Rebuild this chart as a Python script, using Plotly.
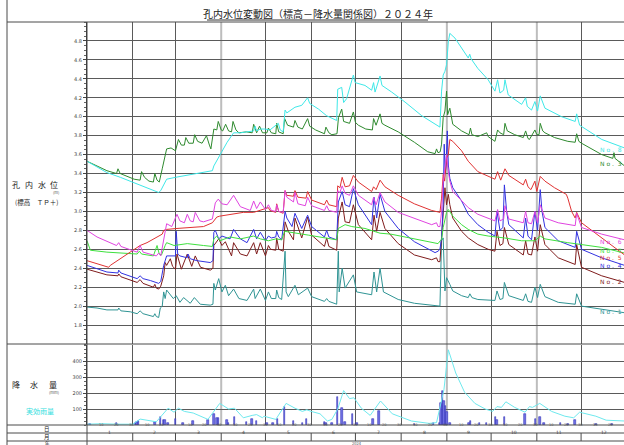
import plotly.graph_objects as go

# ---------------- data ----------------
MONTH_START = [0, 31, 60, 91, 121, 152, 182, 213, 244, 274, 305, 335, 366]
MONTH_LABELS = ["1", "2", "3", "4", "5", "6", "7", "8", "9", "10", "11", "12"]
LEVEL_TICKS = [1.8, 2.0, 2.2, 2.4, 2.6, 2.8, 3.0, 3.2, 3.4, 3.6, 3.8, 4.0, 4.2, 4.4, 4.6, 4.8]
RAIN_TICKS = [100, 200, 300, 400]
YEAR_LABEL = "2024"

# water level (day of year, m TP+)
NO8 = [(0,3.53),(13.5,3.41),(22.6,3.36),(34,3.29),(43,3.24),(48.6,3.20),(50,3.22),(54,3.34),(60,3.36),(68,3.38),
       (85,3.43),(86,3.48),(90,3.59),(91,3.62),(95,3.73),(99.4,3.83),(104,3.83),(113,3.85),(114,3.90),(115,3.85),
       (117.5,3.87),(120.7,3.87),(124,3.86),(129.7,3.93),(131,3.86),(133,3.84),(134.3,4.07),(135.5,4.04),(141,4.10),
       (145.6,4.12),(149.6,4.20),(151,4.14),(157,4.08),(162.5,4.01),(169.3,3.96),(170,4.29),(172.7,4.31),(174,4.15),
       (176,4.19),(180.6,4.44),(181.8,4.36),(188.5,4.33),(193,4.28),(194.3,4.36),(195.3,4.26),(198.7,4.43),(200,4.33),
       (206.6,4.26),(215.6,4.155),(227,4.01),(239.3,3.89),(240.4,4.27),(241.5,4.44),(242.7,4.48),(243.8,4.55),(245,4.79),
       (246,4.88),(249.5,4.83),(254,4.72),(258.5,4.62),(259.5,4.66),(260.5,4.61),(265,4.51),(272,4.39),(276.6,4.27),
       (278.4,4.39),(280,4.25),(282.5,4.28),(283.4,4.39),(285.6,4.23),(294.7,4.13),(297.4,4.20),(298.5,4.11),
       (301.4,4.07),(303.7,4.16),(305.5,4.06),(307.3,4.22),(310.5,4.09),(321.8,4.00),(331,3.95),(332,4.03),(334,3.91),
       (349,3.76),(364.5,3.67)]
NO3 = [(0,3.53),(7,3.48),(13.5,3.43),(20,3.40),(21,3.45),(22.5,3.40),(29,3.36),(32,3.34),(36,3.33),(37,3.42),
       (39,3.36),(42,3.32),(45,3.31),(46,3.40),(47.5,3.33),(49,3.31),(51,3.45),(54,3.66),(57,3.67),(60,3.64),(62,3.76),
       (64,3.70),(66,3.70),(67,3.78),(69,3.72),(72,3.72),(73,3.81),(75,3.74),(78,3.72),(81,3.80),(83,3.70),(84,3.66),
       (86,3.87),(88,3.86),(89,3.95),(91,3.86),(92,3.85),(94,3.92),(96,3.85),(98,3.84),(99,3.95),(101,3.86),(103,3.83),
       (108,3.84),(112,3.83),(113,3.92),(115,3.83),(117,3.90),(119,3.83),(122,3.83),(123,3.88),(125,3.83),(128,3.82),
       (128.6,3.93),(130,3.84),(133,3.82),(134,3.98),(136,3.91),(140,3.89),(141,3.96),(143,3.89),(146,3.87),
       (149.6,3.98),(151,3.90),(155,3.86),(161,3.82),(162,3.89),(164,3.83),(166,3.81),(169.5,3.82),(170.5,3.99),
       (172.7,4.08),(174,3.95),(178,3.93),(180.6,4.05),(182,3.94),(184,3.91),(189,3.87),(193.5,3.86),(194.3,3.98),
       (196,3.91),(198.7,4.03),(200,3.93),(202,3.91),(211,3.84),(222,3.73),(231,3.63),(236,3.61),(237,3.66),(238,3.62),
       (239.5,3.63),(240.4,3.71),(241.5,3.99),(242.7,4.06),(243.8,4.27),(244.5,4.02),(246,4.09),(248,3.92),(254,3.85),
       (259,3.81),(260,3.88),(261,3.81),(265,3.79),(271,3.83),(272,3.79),(276.6,3.74),(278.4,3.86),(280,3.83),
       (282.5,3.81),(283.4,3.93),(285,3.85),(290,3.81),(295.8,3.78),(297.4,3.85),(299,3.77),(300,3.76),(303.7,3.86),
       (305,3.81),(306.5,3.81),(307.3,3.93),(309,3.85),(310.5,3.83),(317,3.78),(326,3.74),(331,3.73),(332,3.82),
       (333.5,3.74),(335.3,3.72),(349,3.60),(356.5,3.56),(357.3,3.62),(358,3.56),(364.5,3.48)]
NO5 = [(0,2.48),(6.8,2.45),(14.7,2.41),(15.8,2.43),(22.6,2.50),(29.4,2.57),(36,2.64),(40.7,2.67),(45,2.71),(51,2.76),
       (52,2.80),(54,2.81),(61,2.82),(68,2.83),(79,2.84),(85,2.88),(88,2.94),(90,2.95),(99.4,2.97),(106,2.99),(113,2.99),
       (120,3.02),(123,3.04),(124,3.01),(128,2.99),(128.6,3.08),(130,3.00),(133,2.98),(134.3,3.22),(135.5,3.17),
       (140,3.16),(141,3.22),(143,3.15),(148.5,3.14),(149.6,3.21),(152.3,3.12),(161,3.07),(162.5,3.12),(164,3.07),
       (169.3,3.05),(170,3.27),(171.5,3.25),(173,3.36),(175,3.26),(178,3.27),(180.6,3.38),(184,3.31),(193,3.21),
       (194.3,3.26),(196,3.23),(198.7,3.33),(202,3.26),(211,3.17),(222,3.08),(233.7,3.01),(239.3,2.99),(240.4,3.14),
       (241.5,3.39),(242.5,3.32),(243.8,3.56),(245,3.60),(246,3.76),(248,3.74),(254,3.64),(258.5,3.53),(265,3.42),
       (272,3.37),(276.6,3.34),(278.4,3.42),(280.5,3.33),(283.4,3.45),(286,3.38),(295.8,3.28),(297.4,3.34),(299,3.26),
       (301,3.23),(303.7,3.32),(305,3.21),(307.3,3.37),(310.5,3.32),(317,3.25),(325,3.18),(326,3.14),(328.6,3.00),
       (331,2.93),(332,2.99),(335.3,2.88),(349,2.72),(364.5,2.54)]
NO6 = [(0,2.80),(6.8,2.73),(20,2.64),(21.5,2.67),(23,2.63),(34,2.57),(36,2.64),(38,2.57),(47,2.53),(48.6,2.56),
       (50,2.53),(53,2.82),(54,2.87),(57.5,2.84),(61,2.97),(63,2.90),(66,2.88),(68,2.97),(70,2.90),(72,2.89),(73.4,2.99),
       (76.5,2.90),(79,2.89),(85,2.92),(86,2.99),(87,3.09),(89,3.13),(91.5,3.08),(95,3.07),(99.4,3.17),(104,3.05),
       (110.7,3.01),(113,3.11),(115,3.03),(117.5,3.10),(121,3.02),(123,3.07),(125,3.01),(128,3.00),(128.6,3.07),
       (130,3.00),(133,2.99),(134.3,3.22),(135.5,3.15),(140,3.10),(141,3.20),(143,3.08),(148,3.06),(149.6,3.15),
       (152.3,3.06),(161,3.01),(162.5,3.06),(164,3.01),(169.3,2.99),(170,3.22),(171.5,3.20),(173,3.27),(175,3.19),
       (178,3.17),(180.6,3.27),(184,3.17),(193,3.07),(194.3,3.15),(196,3.07),(198.7,3.20),(202,3.10),(211,2.99),
       (222,2.93),(233.7,2.86),(237,2.88),(238,2.84),(239.3,2.84),(240.4,3.00),(241.5,3.31),(242.7,3.45),(243.8,3.60),
       (245,3.42),(246,3.32),(248,3.21),(254,3.11),(258.5,3.04),(265,2.97),(272,2.93),(276.6,2.90),(278.4,3.02),
       (280,2.90),(282.5,2.92),(283.4,3.06),(286,2.92),(295.8,2.88),(297.4,3.00),(299,2.88),(301.4,2.87),(303.7,3.00),
       (305.5,2.88),(307.3,3.07),(310.5,2.93),(319.5,2.88),(331,2.85),(332,2.98),(335.3,2.83),(349,2.76),(364.5,2.70)]
NO7 = [(0,2.69),(2.3,2.59),(13.5,2.57),(34,2.55),(35.5,2.58),(37,2.55),(45,2.53),(47.5,2.64),(49,2.55),(50.5,2.54),
       (53,2.64),(54,2.67),(59,2.64),(68,2.66),(79,2.64),(85,2.63),(86,2.71),(88,2.74),(90,2.69),(97,2.73),(104,2.71),
       (113,2.74),(117.5,2.71),(123,2.69),(128,2.71),(132,2.70),(134,2.79),(141,2.77),(150,2.75),(169.3,2.70),
       (170.4,2.82),(175,2.86),(179.5,2.84),(188.5,2.82),(193,2.80),(198.7,2.77),(206,2.76),(215.6,2.73),(224.7,2.70),
       (238,2.66),(239.5,2.69),(240.4,2.70),(241.5,2.83),(243.8,2.99),(245,3.02),(248,2.95),(254,2.86),(258.5,2.81),
       (265,2.76),(272,2.74),(283,2.72),(294.7,2.69),(303.7,2.69),(307.3,2.74),(310.5,2.71),(326,2.67),(349,2.62),
       (364.5,2.56)]
NO4 = [(0,2.43),(13.5,2.36),(21,2.35),(21.5,2.38),(23,2.35),(34,2.29),(36,2.32),(38,2.29),(43,2.27),(48.6,2.24),
       (50,2.26),(52,2.43),(54,2.53),(60,2.53),(60.5,2.79),(61.5,2.55),(63,2.53),(68,2.51),(68.5,2.55),(70,2.50),
       (74.5,2.48),(83.6,2.46),(85.4,2.48),(86,2.78),(87,2.80),(89.3,2.71),(91.5,2.74),(97,2.71),(99.4,2.81),(104,2.71),
       (108.5,2.67),(113,2.81),(115,2.71),(117.5,2.78),(121,2.69),(123,2.74),(125,2.72),(128,2.73),(128.6,2.79),
       (130,2.73),(132,2.70),(134.3,3.00),(135.5,2.93),(139,2.84),(141,2.98),(145.6,2.82),(149.6,2.96),(152.3,2.84),
       (161,2.73),(162.5,2.80),(164,2.73),(169.3,2.70),(170.4,3.10),(173,3.21),(175,3.07),(178,3.05),(180.6,3.24),
       (184,3.07),(193,2.86),(194.6,3.15),(196.4,2.93),(198.7,3.18),(202,3.00),(211,2.82),(222,2.68),(233.7,2.59),
       (236,2.565),(238,2.58),(239.3,2.60),(240.4,2.72),(241.5,3.07),(242.2,3.71),(242.9,3.40),(243.5,3.49),
       (244.3,3.85),(245,3.49),(246,3.35),(248,3.25),(254,3.11),(258.5,2.97),(265,2.86),(272,2.78),(276.6,2.74),
       (278,3.00),(280,2.80),(282,2.83),(283,3.28),(284.5,3.00),(286,2.86),(295.8,2.72),(297.4,2.93),(299,2.74),
       (301.4,2.70),(303.7,3.00),(305.5,2.80),(307.3,3.23),(308.5,3.00),(310.5,2.83),(319.5,2.69),(331,2.62),
       (332,2.79),(335.3,2.60),(349,2.51),(364.5,2.43)]
NO2 = [(0,2.39),(6.8,2.36),(13.5,2.33),(21,2.32),(21.5,2.34),(23,2.31),(34,2.25),(36,2.28),(38,2.24),(45,2.20),
       (46,2.23),(47,2.19),(48.6,2.18),(50,2.21),(52,2.32),(53,2.46),(54,2.43),(56.5,2.50),(58,2.42),(60,2.39),(61,2.55),
       (64,2.39),(68,2.55),(71,2.42),(73.4,2.53),(77,2.41),(83.6,2.38),(85.4,2.40),(86,2.64),(89.3,2.71),(91.5,2.64),
       (93.8,2.68),(98,2.53),(99.4,2.67),(104,2.55),(108.5,2.53),(113,2.67),(115,2.55),(117.5,2.67),(121,2.53),
       (123,2.64),(124.5,2.60),(128,2.59),(128.6,2.72),(130,2.60),(133,2.58),(134.3,2.89),(136.5,2.79),(140,2.70),
       (141,2.93),(145.6,2.72),(149.6,2.94),(152.3,2.75),(161,2.63),(162.5,2.72),(164,2.63),(169.3,2.59),(170.4,2.93),
       (173,3.10),(175,2.89),(178,2.88),(180.6,3.07),(184,2.86),(193,2.70),(194.6,2.96),(196.4,2.79),(198.7,2.99),
       (202,2.82),(211,2.66),(222,2.54),(233.7,2.49),(237,2.51),(238,2.47),(239.3,2.47),(240.4,2.72),(241.5,3.07),
       (242.7,3.25),(243.8,3.07),(245,3.18),(246,3.07),(248,2.93),(254,2.79),(258.5,2.72),(265,2.65),(272,2.60),
       (276.6,2.58),(278,2.79),(280,2.64),(282,2.66),(283,2.83),(286,2.65),(295.8,2.54),(297.4,2.69),(299,2.55),
       (301.4,2.54),(303.7,2.73),(305.5,2.58),(307.3,2.86),(310.5,2.65),(319.5,2.51),(331,2.44),(332,2.65),
       (335.3,2.41),(349,2.32),(364.5,2.25)]
NO1 = [(0,1.99),(6.8,1.98),(13.5,1.96),(21,1.96),(21.5,1.98),(23,1.95),(29.4,1.94),(34,1.92),(36,1.95),(38,1.92),
       (45,1.89),(46,1.92),(47,1.89),(48.6,1.88),(49.7,1.98),(51,2.00),(52,2.15),(53,2.08),(54,2.17),(58.5,2.08),
       (60.5,2.11),(63,2.04),(65.5,2.09),(70,2.03),(72.8,2.09),(76.8,2.02),(83.6,2.01),(85.4,2.02),(86,2.24),(87,2.17),
       (89.3,2.29),(91.5,2.15),(93.8,2.22),(96,2.11),(99.4,2.18),(103,2.08),(108.5,2.06),(113,2.18),(114,2.08),
       (117.5,2.18),(121,2.06),(123,2.15),(125,2.08),(128,2.08),(128.6,2.17),(130,2.09),(132,2.07),(134.3,2.58),
       (135,2.15),(136.5,2.10),(141,2.22),(143.3,2.12),(149.6,2.19),(152.3,2.10),(161,2.05),(162.5,2.08),(164,2.05),
       (169.3,2.02),(170.4,2.58),(171,2.15),(173,2.40),(175,2.19),(180.6,2.33),(182.8,2.15),(193,2.12),(194.6,2.36),
       (196.4,2.15),(198.7,2.40),(201,2.15),(211,2.07),(222,2.03),(233.7,2.01),(239.3,2.00),(240.4,2.69),(241.5,2.72),
       (242.7,2.16),(243.8,2.30),(246,2.23),(248,2.16),(254,2.11),(258.5,2.09),(259.6,2.13),(261,2.09),(265,2.07),
       (276.6,2.06),(278,2.16),(280,2.07),(282,2.08),(283,2.25),(286,2.11),(295.8,2.06),(297.4,2.13),(299,2.05),
       (301.4,2.04),(303.7,2.20),(305.5,2.09),(307.3,2.23),(310.5,2.10),(319.5,2.04),(331,2.02),(332,2.13),
       (335.3,2.00),(349,1.97),(364.5,1.93)]

# daily rainfall (day of year, mm)
RAIN = [(2,5),(20,15),(33,10),(34,20),(35,25),(46,20),(50,50),(52,30),(53,30),(55,15),(60,35),(65,15),(72,25),
        (82,30),(86,70),(88,45),(89,45),(95,30),(96,10),(100,50),(108,20),(112,40),(115,25),(122,15),(126,10),
        (129,40),(134,115),(140,25),(146,15),(149,40),(161,20),(162,15),(166,10),(170,175),(173,105),(175,20),
        (180,70),(183,15),(194,35),(198,90),(222,5),(235,15),(239,10),(240,140),(241,215),(242,150),(243,120),
        (244,80),(246,10),(259,10),(260,25),(266,15),(271,15),(277,50),(278,30),(283,50),(297,70),(304,35),
        (307,50),(310,10),(321,10),(326,5),(331,30),(345,5),(356,5)]
# effective rainfall (day of year, mm)
EFFECTIVE = [(0,5),(10,8),(20,5),(31,5),(36,37),(47,20),(55,105),(59,80),(62,105),(66,85),(72,75),(82,35),(90,135),
             (96,100),(100,105),(106,45),(112,60),(115,65),(119,45),(120,55),(128,35),(135,135),(141,105),(146,85),
             (149,95),(152,85),(158,70),(161,40),(163,25),(166,35),(170,100),(174,215),(178,165),(181,170),(186,105),
             (192,60),(199,150),(207,70),(220,25),(232,10),(237,15),(242,220),(245,470),(250,325),(256,205),(263,135),
             (270,100),(275,85),(278,115),(281,110),(284,145),(290,110),(297,80),(300,115),(302,110),(307,135),
             (315,85),(324,55),(330,45),(334,80),(345,55),(352,30),(364.5,25)]

SERIES = [("No.1", NO1, "#2f9494", "N o .  1", 311),
          ("No.2", NO2, "#7f1c1c", "N o .  2", 281),
          ("No.4", NO4, "#3232e0", "N o .  4", 265),
          ("No.7", NO7, "#3ee03e", "N o .  7", 250),
          ("No.5", NO5, "#e03232", "N o .  5", 257),
          ("No.6", NO6, "#e044e0", "N o .  6", 241),
          ("No.3", NO3, "#2e8a2e", "N o .  3", 163),
          ("No.8", NO8, "#3ee8e8", "N o .  8", 149)]

# ---------------- figure ----------------
W, H = 624, 445
def px(x): return x / W
def py(y): return 1 - y / H

JP = "Noto Sans CJK JP"
fig = go.Figure()

for name, data, color, lab, ly in SERIES:
    fig.add_trace(go.Scatter(x=[d for d, v in data], y=[v for d, v in data], mode="lines",
                             line=dict(color=color, width=1), name=name, xaxis="x", yaxis="y",
                             hoverinfo="skip"))

fig.add_trace(go.Scatter(x=[d for d, v in EFFECTIVE], y=[v for d, v in EFFECTIVE], mode="lines",
                         line=dict(color="#6ee9ee", width=1), xaxis="x2", yaxis="y2", hoverinfo="skip"))
fig.add_trace(go.Bar(x=[d for d, v in RAIN], y=[v for d, v in RAIN], width=1.0,
                     marker=dict(color="#7474e6", line=dict(color="#3030b8", width=0.6)),
                     xaxis="x2", yaxis="y2", hoverinfo="skip"))

grid_days = [d for d in MONTH_START if d not in (0, 91, 244, 305, 366)]
xax = dict(range=[0, 364.1], tickvals=grid_days, showticklabels=False, showgrid=True,
           gridcolor="#5a5a5a", gridwidth=1, zeroline=False, showline=False, ticks="",
           domain=[px(87), 1])
fig.update_layout(
    width=W, height=H, margin=dict(l=0, r=0, t=0, b=0),
    paper_bgcolor="white", plot_bgcolor="rgba(0,0,0,0)", showlegend=False,
    font=dict(family=JP, color="#222"),
    bargap=0,
    xaxis=dict(**xax, anchor="y"),
    xaxis2=dict(**xax, anchor="y2", matches="x"),
    yaxis=dict(domain=[py(344), py(22)], range=[1.6, 5.0], tickvals=LEVEL_TICKS,
               ticktext=[f"{v:.1f}" for v in LEVEL_TICKS], showgrid=True, gridcolor="#5a5a5a",
               gridwidth=1, zeroline=False, showline=True, linecolor="#333", linewidth=1,
               ticks="outside", ticklen=3, tickcolor="#444",
               minor=dict(dtick=0.05, tick0=1.6, ticks="outside", ticklen=2, tickcolor="#666", showgrid=False),
               tickfont=dict(size=5, color="#444", family="DejaVu Sans"), anchor="x"),
    yaxis2=dict(domain=[py(425), py(345)], range=[0, 500], tickvals=RAIN_TICKS,
                showgrid=True, gridcolor="#5a5a5a", gridwidth=1, zeroline=False, showline=True,
                linecolor="#333", linewidth=1, ticks="outside", ticklen=3, tickcolor="#444",
                minor=dict(dtick=25, ticks="outside", ticklen=2, tickcolor="#666", showgrid=False),
                tickfont=dict(size=5, color="#444", family="DejaVu Sans"), anchor="x2"),
)

shapes = []
def pline(x0, y0, x1, y1, color="#4a4a4a", width=1):
    shapes.append(dict(type="line", xref="paper", yref="paper", x0=px(x0), y0=py(y0), x1=px(x1), y1=py(y1),
                       line=dict(color=color, width=width)))

pline(7, 0, 7, 445)
for yy in (22, 344, 425, 433, 441):
    pline(7, yy, 624, yy)
pline(87, 22, 87, 445)
pline(207, 20, 428, 20, color="#333", width=1)
for d in MONTH_START[1:12]:
    shapes.append(dict(type="line", xref="x", yref="paper", x0=d, x1=d, y0=py(441), y1=py(433),
                       line=dict(color="#4a4a4a", width=1)))
for d in (91, 244, 305):
    shapes.append(dict(type="line", xref="x", yref="paper", x0=d, x1=d, y0=py(425), y1=py(22),
                       line=dict(color="#bdbdbd", width=2), layer="below"))
fig.update_layout(shapes=shapes)

ann = []
def text(x, y, s, size=8, color="#222", anchor="center", family=JP):
    ann.append(dict(x=px(x), y=py(y), xref="paper", yref="paper", text=s, showarrow=False,
                    xanchor=anchor, yanchor="middle", font=dict(size=size, color=color, family=family)))

text(317.5, 13, "孔内水位変動図（標高－降水量関係図）２０２４年", size=10, color="#222")
for cx, ch in zip((16, 29, 42, 54), "孔内水位"):
    text(cx, 184, ch, size=8)
text(56, 192, "(m)", size=4, color="#555")
text(13, 202, "(標高　ＴＰ＋)", size=6.5, anchor="left")
for cx, ch in zip((16, 34, 53), "降水量"):
    text(cx, 384, ch, size=8)
text(54, 392, "(mm)", size=4, color="#555")
text(40, 411, "実効雨量", size=7, color="#33dede")
text(47, 429, "日", size=5.5)
text(47, 437, "月", size=5.5)
text(47, 443, "年", size=4.5)
text(357, 443, YEAR_LABEL, size=4, color="#555")

for _, _, color, lab, ly in SERIES:
    text(598, ly, lab, size=6, color=color, anchor="left", family="DejaVu Sans")

for i in range(12):
    start, end = MONTH_START[i], MONTH_START[i + 1]
    ann.append(dict(x=(start + end) / 2, y=py(437), xref="x", yref="paper", text=MONTH_LABELS[i],
                    showarrow=False, font=dict(size=4.5, color="#444", family="DejaVu Sans")))
    for dd in (10, 20, 30):
        if start + dd <= end:
            ann.append(dict(x=start + dd - 0.5, y=py(429), xref="x", yref="paper", text=str(dd),
                            showarrow=False, font=dict(size=3.5, color="#555", family="DejaVu Sans")))
fig.update_layout(annotations=ann)

fig.write_html("out.html", include_plotlyjs=True, config={"displayModeBar": False},
               post_script="document.body.style.margin='0';document.body.style.overflow='hidden';")
